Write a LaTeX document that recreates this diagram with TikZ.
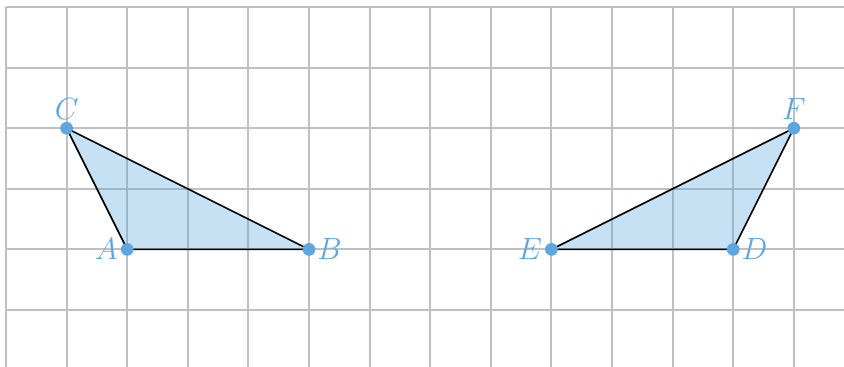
\documentclass[tikz,border=0pt]{standalone}
\usetikzlibrary{positioning}
\begin{document}
\begin{tikzpicture}[x=1cm,y=1cm,
  gridline/.style={draw={rgb,255:red,192;green,192;blue,192}, line width=0.95pt},
  tri/.style={draw=black, line width=0.75pt, fill=ptblue, fill opacity=0.35, line join=round},
  pt/.style={circle, fill=ptblue, inner sep=0pt, minimum size=0.21cm},
  lbl/.style={text=ptblue, font=\fontsize{14}{16}\selectfont, inner sep=2pt}]
\definecolor{ptblue}{RGB}{93,166,223}
\useasboundingbox (-0.099,0.1155) rectangle (13.828,-5.924);
\begin{scope}
\clip (-0.099,0.1155) rectangle (13.828,-5.924);
\foreach \i in {0,...,13} \draw[gridline] (\i,0) -- (\i,-6);
\foreach \j in {0,...,5} \draw[gridline] (0,-\j) -- (14,-\j);
\end{scope}
\coordinate (Cc) at (1,-2);
\coordinate (Ac) at (2,-4);
\coordinate (Bc) at (5,-4);
\coordinate (Ec) at (9,-4);
\coordinate (Dc) at (12,-4);
\coordinate (Fc) at (13,-2);
\path[tri] (Ac) -- (Bc) -- (Cc) -- cycle;
\path[tri] (Ec) -- (Dc) -- (Fc) -- cycle;
\node[pt] (A) at (Ac) {};
\node[pt] (B) at (Bc) {};
\node[pt] (C) at (Cc) {};
\node[pt] (D) at (Dc) {};
\node[pt] (E) at (Ec) {};
\node[pt] (F) at (Fc) {};
\node[lbl, left=0.08cm of Ac] (lA) {$A$};
\node[lbl, right=0.06cm of Bc] (lB) {$B$};
\node[lbl, above=0.07cm of Cc] (lC) {$C$};
\node[lbl, right=0.06cm of Dc] (lD) {$D$};
\node[lbl, left=0.08cm of Ec] (lE) {$E$};
\node[lbl, above=0.07cm of Fc] (lF) {$F$};
\end{tikzpicture}
\end{document}
